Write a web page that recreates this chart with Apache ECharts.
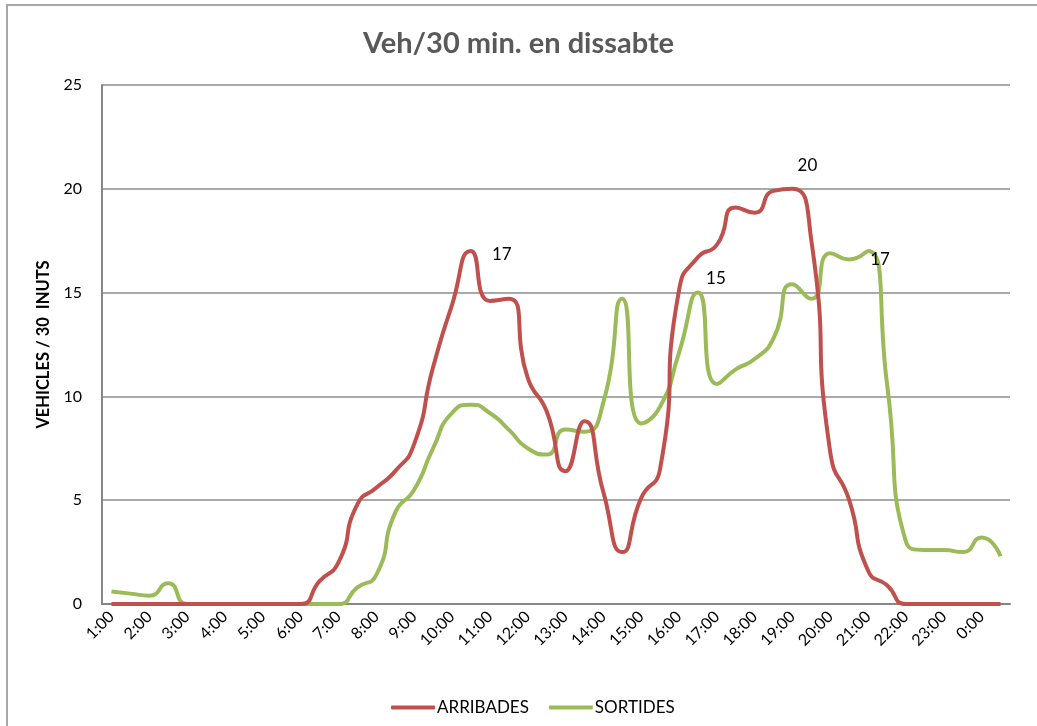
<!DOCTYPE html>
<html>
<head>
<meta charset="utf-8">
<title>Veh/30 min. en dissabte</title>
<script src="https://cdn.jsdelivr.net/npm/echarts@6/dist/echarts.min.js"></script>
<style>
  html, body { margin: 0; padding: 0; background: #ffffff; }
  #chart { width: 1037px; height: 726px; }
</style>
</head>
<body>
<div id="chart"></div>
<script>
// Half-hour slots of the day, from 1:00 to 0:30
const categories = [
  '1:00','1:30','2:00','2:30','3:00','3:30','4:00','4:30','5:00','5:30','6:00','6:30',
  '7:00','7:30','8:00','8:30','9:00','9:30','10:00','10:30','11:00','11:30','12:00','12:30',
  '13:00','13:30','14:00','14:30','15:00','15:30','16:00','16:30','17:00','17:30','18:00','18:30',
  '19:00','19:30','20:00','20:30','21:00','21:30','22:00','22:30','23:00','23:30','0:00','0:30'
];

// Vehicles arriving per 30 minutes
const arribades = [
  0, 0, 0, 0, 0, 0, 0, 0, 0, 0, 0, 1.1,
  2.0, 4.8, 5.6, 6.4, 7.7, 11.4, 14.4, 17, 14.6, 14.7, 10.9, 9.3,
  6.4, 8.8, 5.4, 2.5, 5.1, 6.5, 15.1, 16.7, 17.3, 19.1, 18.85, 19.9,
  20, 17.5, 7.3, 5.0, 1.6, 0.9, 0, 0, 0, 0, 0, 0
];

// Vehicles leaving per 30 minutes
const sortides = [
  0.6, 0.5, 0.4, 1.0, 0, 0, 0, 0, 0, 0, 0, 0,
  0, 0.8, 1.4, 4.4, 5.5, 7.5, 9.2, 9.6, 9.2, 8.4, 7.5, 7.2,
  8.4, 8.3, 9.7, 14.7, 8.7, 9.5, 12.1, 15, 10.6, 11.3, 11.8, 12.8,
  15.4, 14.7, 16.9, 16.6, 17, 10.6, 3.0, 2.6, 2.6, 2.5, 3.2, 2.3
];

const yTicks = { min: 0, max: 25, interval: 5 };

const RED = '#c0504d';
const GREEN = '#9bbb59';
const FONT = 'Lato, "Open Sans", sans-serif';

// Value labels shown on a few points: index -> label placement
const redLabels = {
  19: { position: 'right', distance: 20, offset: [0, 3] },
  36: { position: 'top', distance: 5, offset: [15, -9] }
};
const greenLabels = {
  31: { position: 'top', distance: 5, offset: [18, 0] },
  40: { position: 'right', distance: 1, offset: [0, 8] }
};

function withLabels(values, labels) {
  return values.map(function (v, i) {
    const l = labels[i];
    if (!l) return v;
    return {
      value: v,
      symbol: 'circle',
      symbolSize: 2,
      itemStyle: { color: 'rgba(0,0,0,0)', borderWidth: 0 },
      label: {
        show: true,
        formatter: '{c}',
        position: l.position,
        distance: l.distance,
        offset: l.offset,
        color: '#000000',
        fontSize: 17,
        fontFamily: FONT
      }
    };
  });
}

const chart = echarts.init(document.getElementById('chart'), null, { renderer: 'canvas' });

chart.setOption({
  backgroundColor: '#ffffff',
  animation: false,
  title: {
    text: 'Veh/30 min. en dissabte',
    left: 'center',
    top: 24,
    textStyle: { color: '#595959', fontSize: 29, fontWeight: 'bold', fontFamily: FONT }
  },
  graphic: [{
    type: 'rect',
    shape: { x: 7, y: 5, width: 1100, height: 800 },
    style: { fill: 'none', stroke: '#a6a6a6', lineWidth: 2 },
    silent: true,
    z: -10
  }],
  legend: {
    bottom: 5,
    left: 386,
    itemWidth: 44,
    itemHeight: 4,
    itemGap: 20,
    icon: 'roundRect',
    textStyle: { color: '#000000', fontSize: 17, fontFamily: FONT, padding: [0, 0, 0, -3] },
    data: ['ARRIBADES', 'SORTIDES']
  },
  grid: { left: 102, right: 27, top: 85, bottom: 122 },
  xAxis: {
    type: 'category',
    data: categories,
    boundaryGap: true,
    axisLine: { lineStyle: { color: '#868686', width: 2 } },
    axisTick: { show: false },
    axisLabel: {
      interval: 1,
      rotate: 45,
      margin: 10,
      color: '#000000',
      fontSize: 16,
      fontFamily: FONT
    },
    splitLine: { show: false }
  },
  yAxis: {
    type: 'value',
    min: yTicks.min,
    max: yTicks.max,
    interval: yTicks.interval,
    name: 'VEHICLES / 30  INUTS',
    nameLocation: 'middle',
    nameRotate: 90,
    nameGap: 48,
    nameTextStyle: { color: '#000000', fontSize: 16.5, fontWeight: 'bold', fontFamily: FONT },
    axisLine: { show: true, lineStyle: { color: '#868686', width: 2 } },
    axisTick: { show: false },
    axisLabel: { color: '#000000', fontSize: 16, fontFamily: FONT, margin: 20 },
    splitLine: { lineStyle: { color: '#8c8c8c', width: 1.5 } }
  },
  series: [
    {
      name: 'ARRIBADES',
      type: 'line',
      data: withLabels(arribades, redLabels),
      smooth: 0.6,
      symbol: 'none',
      color: RED,
      lineStyle: { color: RED, width: 4 },
      z: 3
    },
    {
      name: 'SORTIDES',
      type: 'line',
      data: withLabels(sortides, greenLabels),
      smooth: 0.6,
      symbol: 'none',
      color: GREEN,
      lineStyle: { color: GREEN, width: 4 },
      z: 2
    }
  ]
});
</script>
</body>
</html>
